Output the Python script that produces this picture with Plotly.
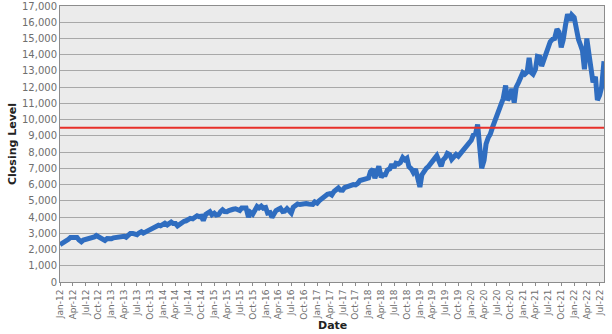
import pandas as pd
import plotly.graph_objects as go

# Semi-monthly closing levels (1st and 15th of each month)
y2012 = [2300, 2360, 2440, 2560, 2630, 2740, 2760, 2700, 2740, 2590, 2480, 2580,
         2620, 2590, 2620, 2720, 2770, 2860, 2800, 2740, 2670, 2560, 2680, 2640]
y2013 = [2660, 2720, 2740, 2770, 2740, 2790, 2820, 2760, 2880, 2990, 2990, 2970,
         2910, 3020, 3100, 3010, 3080, 3150, 3220, 3240, 3370, 3410, 3500, 3460]
y2014 = [3590, 3620, 3520, 3610, 3690, 3600, 3600, 3460, 3580, 3610, 3740, 3770,
         3850, 3920, 3890, 3980, 4080, 4030, 4050, 3790, 4160, 4240, 4330, 4140]
y2015 = [4240, 4120, 4150, 4330, 4440, 4340, 4330, 4400, 4410, 4480, 4510, 4450,
         4400, 4560, 4590, 4560, 4000, 4290, 4180, 4410, 4650, 4560, 4670, 4550]
y2016 = [4590, 4250, 4280, 3980, 4200, 4400, 4480, 4540, 4340, 4360, 4520, 4420,
         4250, 4600, 4730, 4810, 4770, 4790, 4880, 4830, 4800, 4770, 4780, 4930]
y2017 = [4860, 5000, 5120, 5260, 5360, 5400, 5440, 5360, 5580, 5650, 5790, 5660,
         5650, 5820, 5880, 5900, 5990, 6000, 5980, 6060, 6250, 6300, 6350, 6420]
y2018 = [6400, 6800, 6950, 6400, 6860, 7130, 6450, 6620, 6610, 6900, 6970, 7250,
         7040, 7310, 7270, 7350, 7660, 7530, 7630, 7100, 6970, 6750, 6950, 6300]
y2019 = [5850, 6600, 6900, 7000, 7100, 7290, 7380, 7600, 7780, 7450, 7130, 7520,
         7670, 7920, 7850, 7560, 7690, 7860, 7750, 7900, 8080, 8300, 8400, 8600]
y2020 = [8730, 9050, 9150, 9700, 8460, 7000, 7500, 8500, 8900, 9100, 9550, 9900,
         10160, 10700, 10900, 11300, 12100, 11200, 11420, 11900, 11050, 12000, 12270, 12600]
y2021 = [12890, 12800, 12930, 13800, 12900, 12800, 13100, 13900, 13860, 13300, 13690, 14100,
         14550, 14800, 14960, 15000, 15580, 15400, 14450, 14900, 15850, 16500, 16100, 16450]
y2022 = [16300, 15600, 14930, 14600, 14240, 13100, 15000, 14100, 12850, 12300, 12640, 11200,
         11500, 12000, 13600]

closing = y2012 + y2013 + y2014 + y2015 + y2016 + y2017 + y2018 + y2019 + y2020 + y2021 + y2022
dates = pd.date_range("2012-01-01", periods=len(closing), freq="SMS")

threshold = 9500
y_ticks = list(range(0, 17001, 1000))
tick_dates = pd.date_range("2012-01-01", "2022-07-01", freq="3MS")

fig = go.Figure()
fig.add_trace(go.Scatter(x=dates, y=closing, mode="lines",
                         line=dict(color="#2F6DC0", width=5), showlegend=False))
fig.add_trace(go.Scatter(x=[dates[0], dates[-1]], y=[threshold, threshold], mode="lines",
                         line=dict(color="#E8302A", width=2), showlegend=False))

fig.update_layout(
    width=612, height=334,
    margin=dict(l=60, r=8, t=6, b=52),
    paper_bgcolor="white",
    plot_bgcolor="#EBEBEB",
    font=dict(family="DejaVu Sans", size=10, color="#6E6E6E"),
    xaxis=dict(
        range=[dates[0], dates[-1]],
        tickvals=list(tick_dates),
        tickformat="%b-%y",
        tickangle=-90,
        tickfont=dict(size=9, color="#6E6E6E"),
        showgrid=False,
        showline=True, linecolor="#8C8C8C", linewidth=1, mirror=True,
        ticks="outside", ticklen=3, tickcolor="#8C8C8C",
        zeroline=False,
        automargin=False,
    ),
    yaxis=dict(
        range=[0, 17000],
        tickmode="array",
        tickvals=y_ticks,
        ticktext=[f"{v:,}" for v in y_ticks],
        tickfont=dict(size=10, color="#6E6E6E"),
        ticklabeloverflow="allow",
        showgrid=True, gridcolor="#A8A8A8", gridwidth=1,
        showline=True, linecolor="#8C8C8C", linewidth=1, mirror=True,
        ticks="",
        title=dict(text="<b>Closing Level</b>", font=dict(size=11, color="#222222"), standoff=3),
        zeroline=False,
        automargin=False,
    ),
    annotations=[dict(text="<b>Date</b>", x=0.5, y=-0.158, xref="paper", yref="paper",
                      xanchor="center", yanchor="middle", showarrow=False,
                      font=dict(size=11, color="#222222"))],
)

fig.write_html("out.html")
